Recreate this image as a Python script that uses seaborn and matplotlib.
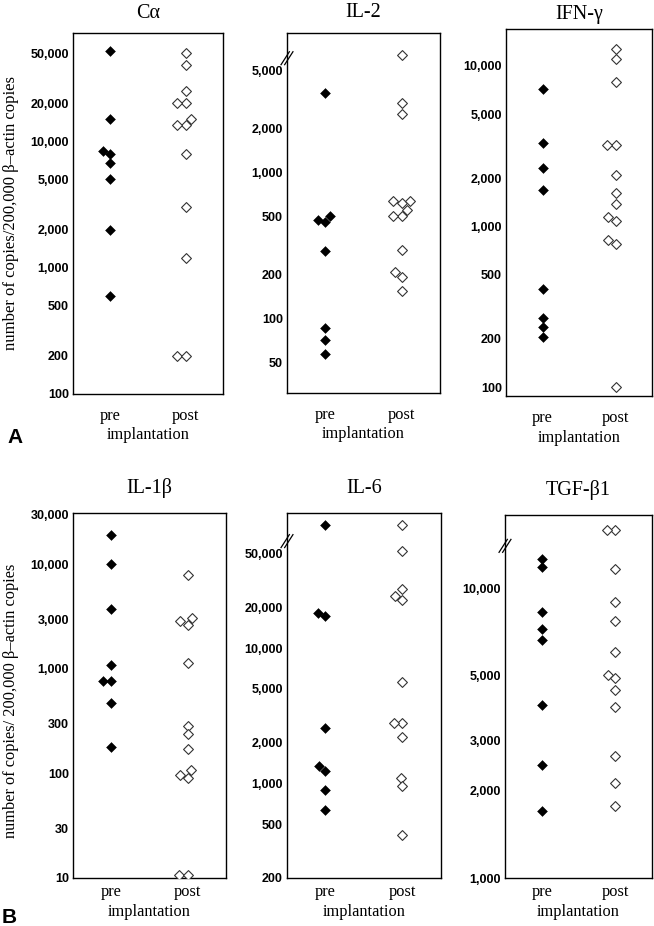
import numpy as np
import pandas as pd
import matplotlib
matplotlib.use("Agg")
import matplotlib.pyplot as plt
import seaborn as sns
from matplotlib.ticker import FixedLocator, FixedFormatter, NullLocator

sns.set_theme(style="white")
plt.rcParams['font.family'] = ['Liberation Serif', 'DejaVu Serif']
plt.rcParams['text.color'] = 'black'
plt.rcParams['axes.labelcolor'] = 'black'

groups = ["pre", "post"]

# ---- data (copies / 200,000 beta-actin copies) ----
ca_pre = [52000, 15000, 8000, 8400, 6700, 5000, 2000, 600]
ca_post = [50000, 40000, 25000, 20000, 20000, 15000, 13400, 13400, 8000, 3000, 1200, 200, 200]

il2_pre = [3500, 470, 455, 500, 290, 86, 71, 57]
il2_post = [6400, 3000, 2500, 620, 635, 635, 550, 500, 500, 295, 208, 194, 154]

ifn_pre = [7200, 3300, 2300, 1700, 410, 270, 236, 205]
ifn_post = [12700, 11000, 7900, 3230, 3230, 2080, 1610, 1390, 1150, 1090, 830, 780, 100]

il1b_pre = [19000, 10000, 3750, 1100, 760, 760, 470, 180]
il1b_post = [8000, 3100, 2900, 2650, 1140, 287, 240, 172, 107, 97, 91, 10.8, 10.8]

il6_pre = [82000, 18200, 17300, 2550, 1340, 1240, 890, 640]
il6_post = [82000, 52600, 27300, 24500, 22800, 5600, 2800, 2800, 2200, 1100, 960, 414]

tgf_pre = [12700, 11900, 8300, 7250, 6650, 3950, 2460, 1710]
tgf_post = [16000, 16000, 11700, 9000, 7750, 6050, 5050, 4900, 4460, 3900, 2650, 2130, 1770]

titles = ["C\u03b1", "IL-2", "IFN-\u03b3", "IL-1\u03b2", "IL-6", "TGF-\u03b21"]

ca_ticks = [100, 200, 500, 1000, 2000, 5000, 10000, 20000, 50000]
il2_ticks = [50, 100, 200, 500, 1000, 2000, 5000]
ifn_ticks = [100, 200, 500, 1000, 2000, 5000, 10000]
il1b_ticks = [10, 30, 100, 300, 1000, 3000, 10000, 30000]
il6_ticks = [200, 500, 1000, 2000, 5000, 10000, 20000, 50000]
tgf_ticks = [1000, 2000, 3000, 5000, 10000]

ylabel_a = "number of copies/200,000 \u03b2\u2013actin copies"
ylabel_b = "number of copies/ 200,000 \u03b2\u2013actin copies"

# ---- layout ----
W, H = 654, 926
fig = plt.figure(figsize=(W / 100, H / 100), dpi=100)


def rect(l, r, t, b):
    return [l / W, 1 - b / H, (r - l) / W, (b - t) / H]


panels = [
    # pre, post, ticks, ylim, rect(px), title baseline px, break y frac, row
    (ca_pre, ca_post, ca_ticks, (100, 72000), (73, 223, 33, 394), 18, None, "A"),
    (il2_pre, il2_post, il2_ticks, (31, 9000), (287, 440, 33, 393), 17, 0.93, "A"),
    (ifn_pre, ifn_post, ifn_ticks, (88, 17000), (506, 652, 29, 396), 19, None, "A"),
    (il1b_pre, il1b_post, il1b_ticks, (10, 31000), (73, 226, 513, 878), 493, None, "B"),
    (il6_pre, il6_post, il6_ticks, (200, 100000), (287, 441, 513, 878), 493, 0.923, "B"),
    (tgf_pre, tgf_post, tgf_ticks, (1000, 18000), (505, 652, 515, 878), 495, 0.915, "B"),
]

tick_font = dict(family="Liberation Sans", weight="bold", size=9)
serif_size = 11.8

for i, (pre, post, ticks, ylim, r, tb, brk, row) in enumerate(panels):
    l, rr, t, b = r
    ax = fig.add_axes(rect(l, rr, t, b))
    df = pd.DataFrame({
        "phase": ["pre"] * len(pre) + ["post"] * len(post),
        "copies": list(pre) + list(post),
    })
    sns.swarmplot(data=df[df["phase"] == "pre"], x="phase", y="copies",
                  order=groups, ax=ax, marker="D", color="black",
                  edgecolor="black", linewidth=0.4, size=5.0, log_scale=True)
    sns.swarmplot(data=df[df["phase"] == "post"], x="phase", y="copies",
                  order=groups, ax=ax, marker="D", color="white",
                  edgecolor="#333333", linewidth=0.8, size=5.0, log_scale=True)
    ax.set_yscale("log")
    ax.set_ylim(*ylim)
    ax.set_xlim(-0.5, 1.5)
    ax.yaxis.set_major_locator(FixedLocator(ticks))
    ax.yaxis.set_major_formatter(FixedFormatter([f"{v:,}" for v in ticks]))
    ax.yaxis.set_minor_locator(NullLocator())
    ax.set_xticks([0, 1])
    ax.set_xticklabels(groups, fontsize=serif_size, family="Liberation Serif")
    for lab in ax.get_yticklabels():
        lab.set_fontproperties(matplotlib.font_manager.FontProperties(**tick_font))
    xpad = 10.3 if row == "A" else 4.6
    ax.tick_params(axis="x", length=0, pad=xpad, colors="black")
    ax.tick_params(axis="y", length=0, pad=3, colors="black")
    for s in ax.spines.values():
        s.set_visible(True)
        s.set_color("black")
        s.set_linewidth(1.0)
    ax.set_xlabel("implantation", fontsize=serif_size, color="black")
    ax.xaxis.set_label_coords(0.5, -0.0914 if row == "A" else -0.071)
    if i == 0:
        ax.set_ylabel(ylabel_a, fontsize=12, color="black")
        ax.yaxis.set_label_coords(-0.36, 0.5)
    elif i == 3:
        ax.set_ylabel(ylabel_b, fontsize=11.8, color="black")
        ax.yaxis.set_label_coords(-0.35, 0.485)
    else:
        ax.set_ylabel("")
    # title
    fig.text((l + rr) / 2 / W, 1 - tb / H, titles[i], ha="center", va="baseline",
             fontsize=14.5, color="black")
    # axis break mark
    if brk is not None:
        wpx, hpx = rr - l, b - t
        for dx in (-1.8, 1.8):
            xs = [(dx - 4.5) / wpx, (dx + 4.5) / wpx]
            ys = [brk - 7 / hpx, brk + 7 / hpx]
            ax.plot(xs, ys, transform=ax.transAxes, color="black", lw=0.9,
                    clip_on=False, solid_capstyle="butt")

fig.text(7 / W, 1 - 443 / H, "A", fontsize=15, fontweight="bold",
         family="Liberation Sans", ha="left", va="baseline", color="black")
fig.text(2 / W, 1 - 923 / H, "B", fontsize=15, fontweight="bold",
         family="Liberation Sans", ha="left", va="baseline", color="black")

fig.savefig("out.png", dpi=100)
